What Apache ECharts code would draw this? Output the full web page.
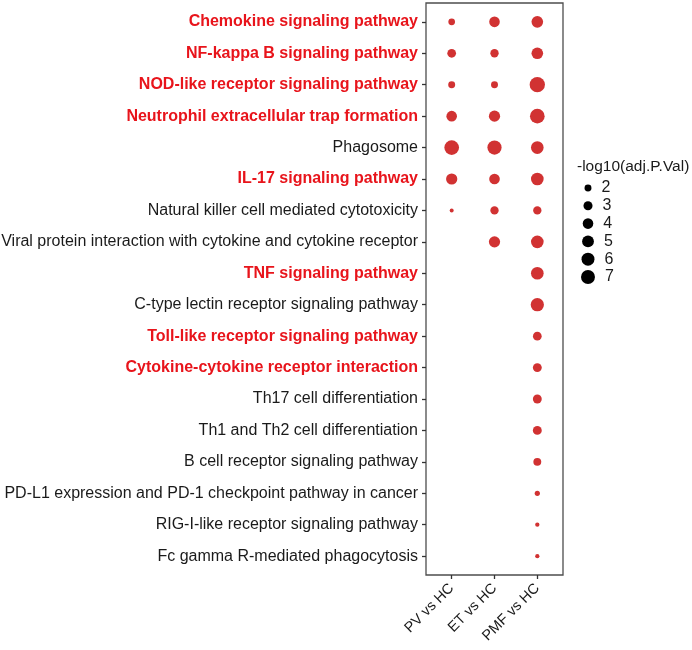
<!DOCTYPE html>
<html>
<head>
    <meta charset="utf-8">
    <title>Pathway dot plot</title>
    <script src="https://cdn.jsdelivr.net/npm/echarts@6/dist/echarts.min.js"></script>
    <style>
        html, body { margin: 0; padding: 0; background: #fff; }
    </style>
</head>
<body>
    <div id="main" style="width: 692px;height:650px;"></div>
    <script type="text/javascript">
        // pathways, top to bottom
        var pathways = [
            'Chemokine signaling pathway',
            'NF-kappa B signaling pathway',
            'NOD-like receptor signaling pathway',
            'Neutrophil extracellular trap formation',
            'Phagosome',
            'IL-17 signaling pathway',
            'Natural killer cell mediated cytotoxicity',
            'Viral protein interaction with cytokine and cytokine receptor',
            'TNF signaling pathway',
            'C-type lectin receptor signaling pathway',
            'Toll-like receptor signaling pathway',
            'Cytokine-cytokine receptor interaction',
            'Th17 cell differentiation',
            'Th1 and Th2 cell differentiation',
            'B cell receptor signaling pathway',
            'PD-L1 expression and PD-1 checkpoint pathway in cancer',
            'RIG-I-like receptor signaling pathway',
            'Fc gamma R-mediated phagocytosis'
        ];
        // pathways printed in red
        var highlighted = [true, true, true, true, false, true, false, false, true,
                           false, true, true, false, false, false, false, false, false];

        var comparisons = ['PV vs HC', 'ET vs HC', 'PMF vs HC'];

        // -log10(adj.P.Val), null = not significant
        var pvVals  = [1.9, 2.8, 2.0, 4.0, 7.8, 4.5, 1.33, null, null, null, null, null, null, null, null, null, null, null];
        var etVals  = [4.0, 2.6, 2.0, 4.5, 7.3, 4.0, 2.6, 4.5, null, null, null, null, null, null, null, null, null, null];
        var pmfVals = [4.8, 4.8, 8.5, 7.8, 5.7, 5.7, 2.6, 5.7, 5.7, 6.3, 2.8, 2.9, 2.9, 2.9, 2.4, 1.5, 1.36, 1.36];

        var legendVals = [2, 3, 4, 5, 6, 7];

        var font = 'Liberation Sans, Arial, sans-serif';

        var dotSize = function (v) {
            return 3.2 + 4.5 * Math.sqrt(Math.max(v - 1.3, 0));
        };

        var points = [];
        [pvVals, etVals, pmfVals].forEach(function (vals, i) {
            vals.forEach(function (v, j) {
                if (v !== null) points.push([i + 1, j + 1, v]);
            });
        });

        var yPos = pathways.map(function (p, i) { return i + 1; });
        var xPos = comparisons.map(function (c, i) { return i + 1; });

        var myChart = echarts.init(document.getElementById('main'));

        myChart.setOption({
            animation: false,
            title: {
                text: '-log10(adj.P.Val)',
                left: 577,
                top: 159,
                padding: 0,
                textStyle: { fontFamily: font, fontSize: 15.5, fontWeight: 'normal', color: '#1a1a1a' }
            },
            grid: [{
                left: 426, right: 129, top: 3, bottom: 75,
                outerBoundsMode: 'none',
                show: true, borderColor: '#4d4d4d', borderWidth: 1.3, backgroundColor: '#fff'
            }, {
                left: 588, width: 10, top: 188, height: 89,
                outerBoundsMode: 'none'
            }],
            xAxis: [{
                type: 'value', gridIndex: 0, min: 0.4, max: 3.6,
                axisLine: { show: false },
                splitLine: { show: false },
                axisTick: { show: true, customValues: xPos, length: 4, lineStyle: { color: '#333', width: 1.3 } },
                axisLabel: {
                    customValues: xPos, rotate: 45, margin: 11,
                    fontFamily: font, fontSize: 14.5, color: '#1a1a1a',
                    formatter: function (v) { return comparisons[Math.round(v) - 1] || ''; }
                }
            }, {
                type: 'value', gridIndex: 1, min: 0, max: 1, show: false
            }],
            yAxis: [{
                type: 'value', gridIndex: 0, min: 0.4, max: 18.6, inverse: true,
                axisLine: { show: false },
                splitLine: { show: false },
                axisTick: { show: true, customValues: yPos, length: 4, lineStyle: { color: '#333', width: 1.3 } },
                axisLabel: {
                    customValues: yPos, margin: 8,
                    formatter: function (v) {
                        var i = Math.round(v) - 1;
                        if (!pathways[i]) return '';
                        return (highlighted[i] ? '{r|' : '{k|') + pathways[i] + '}';
                    },
                    rich: {
                        r: { fontFamily: font, fontSize: 16, fontWeight: 'bold', color: '#e8141b' },
                        k: { fontFamily: font, fontSize: 16, color: '#1a1a1a' }
                    }
                }
            }, {
                type: 'value', gridIndex: 1, min: 2, max: 7, inverse: true, show: false
            }],
            series: [{
                type: 'scatter',
                xAxisIndex: 0, yAxisIndex: 0,
                data: points,
                symbol: 'circle',
                symbolSize: function (val) { return dotSize(val[2]); },
                itemStyle: { color: '#d13232', opacity: 1 }
            }, {
                type: 'scatter',
                xAxisIndex: 1, yAxisIndex: 1,
                data: legendVals.map(function (v) { return [0, v]; }),
                symbol: 'circle',
                symbolSize: function (val) { return dotSize(val[1]); },
                itemStyle: { color: '#000', opacity: 1 },
                label: {
                    show: true, position: 'right', distance: 10,
                    fontFamily: font, fontSize: 16, color: '#1a1a1a',
                    formatter: function (p) { return String(p.value[1]); }
                }
            }]
        });
    </script>
</body>
</html>
